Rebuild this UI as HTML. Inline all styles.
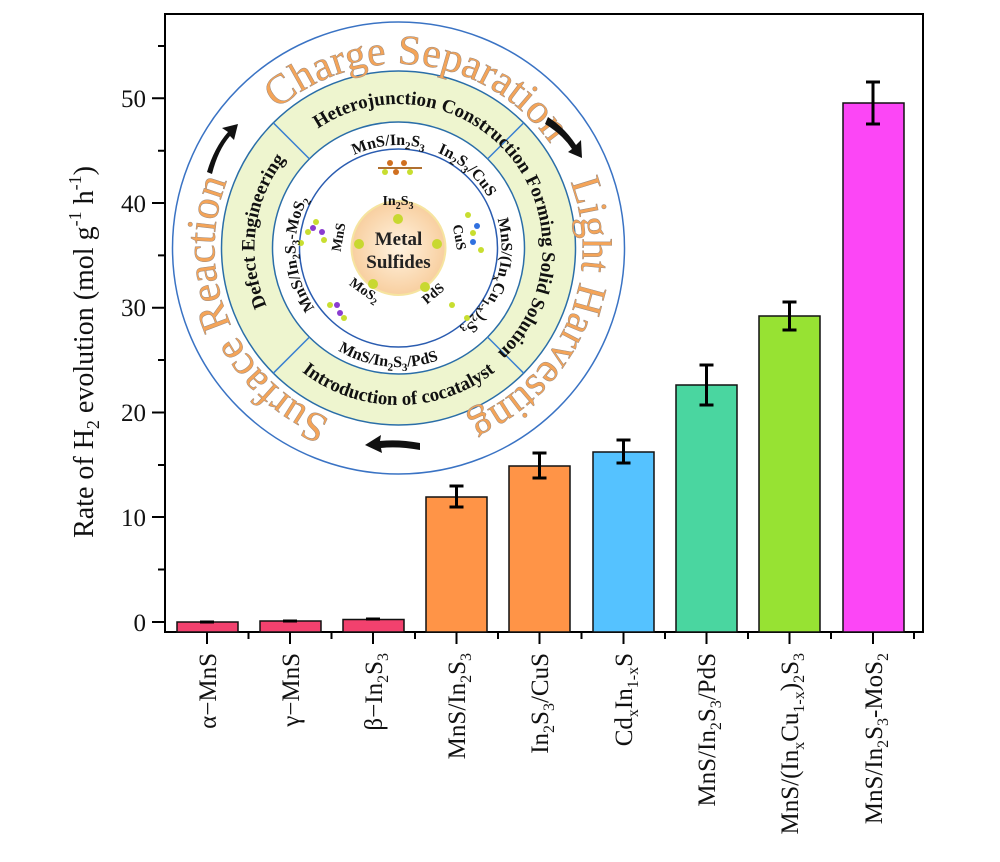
<!DOCTYPE html>
<html><head><meta charset="utf-8"><style>
html,body{margin:0;padding:0;background:#fff;}
svg{display:block;font-family:"Liberation Serif",serif;}
</style></head><body>
<svg width="1000" height="862" viewBox="0 0 1000 862" xmlns="http://www.w3.org/2000/svg">
<defs>
<path id="cwOut" d="M 398.5,432 A 184,184 0 1 1 398.5,64 A 184,184 0 1 1 398.5,432"/>
<path id="cwMid" d="M 398.5,392 A 144,144 0 1 1 398.5,104 A 144,144 0 1 1 398.5,392"/>
<path id="ccwMid" d="M 241.5,248 A 157,157 0 0 0 555.5,248"/>
<path id="cwIn" d="M 398.5,351 A 103,103 0 1 1 398.5,145 A 103,103 0 1 1 398.5,351"/>
<path id="ccwIn" d="M 279.5,248 A 119,119 0 0 0 517.5,248"/>
<radialGradient id="og" cx="50%" cy="50%" r="50%"><stop offset="0" stop-color="#fff3e0"/><stop offset="1" stop-color="#f8cfa0"/></radialGradient>
</defs>

<rect x="165" y="14" width="758" height="618" fill="none" stroke="#000" stroke-width="2"/>

<g stroke="#111" stroke-width="1.5">
<rect x="177" y="622" width="61" height="10" fill="#f2416e"/>
<rect x="260" y="621" width="61" height="11" fill="#f2416e"/>
<rect x="343" y="619.5" width="61" height="12.5" fill="#f2416e"/>
<rect x="426" y="497" width="61" height="135" fill="#ff9447"/>
<rect x="509" y="466" width="61" height="166" fill="#ff9447"/>
<rect x="593" y="452" width="61" height="180" fill="#55c2ff"/>
<rect x="676" y="385" width="61" height="247" fill="#4ad6a0"/>
<rect x="759" y="316" width="61" height="316" fill="#97e233"/>
<rect x="843" y="103" width="61" height="529" fill="#fc46f6"/>
</g>
<g stroke="#000" stroke-width="3" fill="none">
<path d="M200,622h14 M283,621h14 M366,619h14"/>
<path d="M456.5,486v21 M449.5,486h14 M449.5,507h14"/>
<path d="M539.5,453v25 M532.5,453h14 M532.5,478h14"/>
<path d="M623.5,440v23 M616.5,440h14 M616.5,463h14"/>
<path d="M706.5,365v40 M699.5,365h14 M699.5,405h14"/>
<path d="M789.5,302v28 M782.5,302h14 M782.5,330h14"/>
<path d="M873,82v42 M866,82h14 M866,124h14"/>
</g>

<g stroke="#000" stroke-width="2">
<path d="M152,622h13 M152,517h13 M152,412.5h13 M152,307.7h13 M152,203h13 M152,98.3h13"/>
<path d="M158,569.5h7 M158,465h7 M158,360h7 M158,255.4h7 M158,150.7h7 M158,46h7"/>
<path d="M207,632v12 M290,632v12 M373,632v12 M456.5,632v12 M539.5,632v12 M623.5,632v12 M706.5,632v12 M789.5,632v12 M873,632v12"/>
<path d="M248.5,632v7 M331.5,632v7 M415,632v7 M498,632v7 M581.5,632v7 M665,632v7 M748,632v7 M831,632v7 M914,632v7"/>
</g>
<g font-size="25" text-anchor="end" fill="#111">
<text x="146" y="631">0</text>
<text x="146" y="526">10</text>
<text x="146" y="421">20</text>
<text x="146" y="316">30</text>
<text x="146" y="212">40</text>
<text x="146" y="107">50</text>
</g>

<text transform="translate(93,352) rotate(-90)" font-size="28" text-anchor="middle" fill="#111">Rate of H<tspan font-size="18" dy="6">2</tspan><tspan dy="-6"> evolution (mol g</tspan><tspan font-size="18" dy="-12">-1</tspan><tspan dy="12"> h</tspan><tspan font-size="18" dy="-12">-1</tspan><tspan dy="12">)</tspan></text>

<g font-size="25" fill="#111" text-anchor="end">
<text transform="translate(216,653) rotate(-90)">α−MnS</text>
<text transform="translate(299,653) rotate(-90)">γ−MnS</text>
<text transform="translate(382,653) rotate(-90)">β−In<tspan font-size="16" dy="6">2</tspan><tspan dy="-6">S</tspan><tspan font-size="16" dy="6">3</tspan></text>
<text transform="translate(465,653) rotate(-90)">MnS/In<tspan font-size="16" dy="6">2</tspan><tspan dy="-6">S</tspan><tspan font-size="16" dy="6">3</tspan></text>
<text transform="translate(548,653) rotate(-90)">In<tspan font-size="16" dy="6">2</tspan><tspan dy="-6">S</tspan><tspan font-size="16" dy="6">3</tspan><tspan dy="-6">/CuS</tspan></text>
<text transform="translate(632,653) rotate(-90)">Cd<tspan font-size="16" dy="6">x</tspan><tspan dy="-6">In</tspan><tspan font-size="16" dy="6">1-x</tspan><tspan dy="-6">S</tspan></text>
<text transform="translate(715,653) rotate(-90)">MnS/In<tspan font-size="16" dy="6">2</tspan><tspan dy="-6">S</tspan><tspan font-size="16" dy="6">3</tspan><tspan dy="-6">/PdS</tspan></text>
<text transform="translate(798,653) rotate(-90)">MnS/(In<tspan font-size="16" dy="6">x</tspan><tspan dy="-6">Cu</tspan><tspan font-size="16" dy="6">1-x</tspan><tspan dy="-6">)</tspan><tspan font-size="16" dy="6">2</tspan><tspan dy="-6">S</tspan><tspan font-size="16" dy="6">3</tspan></text>
<text transform="translate(882,653) rotate(-90)">MnS/In<tspan font-size="16" dy="6">2</tspan><tspan dy="-6">S</tspan><tspan font-size="16" dy="6">3</tspan><tspan dy="-6">-MoS</tspan><tspan font-size="16" dy="6">2</tspan></text>
</g>

<circle cx="398.5" cy="248" r="226" fill="#fff" stroke="#3a73c4" stroke-width="1.5"/>
<circle cx="398.5" cy="248" r="177" fill="#eef5cf" stroke="#2a6ea8" stroke-width="1.5"/>
<circle cx="398.5" cy="248" r="126" fill="#fff" stroke="#2a6ea8" stroke-width="1.5"/>
<circle cx="398.5" cy="248" r="99" fill="#fff" stroke="#2a5cb0" stroke-width="1.5"/>
<g stroke="#3a80d0" stroke-width="1.5">
<path d="M309.4,158.9 L273.3,122.8 M487.6,158.9 L523.7,122.8 M487.6,337.1 L523.7,373.2 M309.4,337.1 L273.3,373.2"/>
</g>
<circle cx="398.5" cy="248" r="47" fill="url(#og)" stroke="#f6e4a0" stroke-width="2"/>
<text x="398.5" y="245" font-size="19" font-weight="bold" text-anchor="middle" fill="#222">Metal</text>
<text x="398.5" y="268" font-size="19" font-weight="bold" text-anchor="middle" fill="#222">Sulfides</text>
<g fill="#c8d830"><circle cx="398" cy="219" r="5"/><circle cx="359" cy="244" r="5"/><circle cx="437" cy="244" r="5"/><circle cx="373" cy="284" r="5"/><circle cx="425" cy="287" r="5"/></g>
<g fill="#c8de30"><circle cx="316" cy="222" r="3"/><circle cx="308" cy="232" r="3"/><circle cx="324" cy="240" r="3"/><circle cx="301" cy="243" r="3"/><circle cx="468" cy="215" r="3"/><circle cx="473" cy="233" r="3"/><circle cx="481" cy="250" r="3"/><circle cx="452" cy="305" r="3"/><circle cx="467" cy="318" r="3"/><circle cx="330" cy="305" r="3"/><circle cx="344" cy="318" r="3"/><circle cx="385" cy="172" r="3"/><circle cx="410" cy="172" r="3"/></g>
<g fill="#8a3cd0"><circle cx="313" cy="228" r="3"/><circle cx="322" cy="232" r="3"/><circle cx="337" cy="305" r="3"/><circle cx="340" cy="313" r="3"/></g>
<g fill="#d07020"><circle cx="390" cy="163" r="3"/><circle cx="404" cy="163" r="3"/><circle cx="396" cy="172" r="3"/></g>
<g fill="#3070e0"><circle cx="477" cy="226" r="3"/><circle cx="473" cy="242" r="3"/></g>
<path d="M378,168h44" stroke="#b07030" stroke-width="2"/>

<g font-size="42" fill="#f4a458" stroke="#9a8a80" stroke-width="0.5" text-anchor="middle">
<text><textPath href="#cwOut" startOffset="52%">Charge Separation</textPath></text>
<text><textPath href="#cwOut" startOffset="81.5%">Light Harvesting</textPath></text>
<text><textPath href="#cwOut" startOffset="18.5%">Surface Reaction</textPath></text>
</g>
<g font-size="19" font-weight="bold" fill="#111" text-anchor="middle">
<text><textPath href="#cwMid" startOffset="53.5%">Heterojunction Construction</textPath></text>
<text><textPath href="#cwMid" startOffset="77.5%">Forming Solid Solution</textPath></text>
<text><textPath href="#cwMid" startOffset="27%">Defect Engineering</textPath></text>
<text><textPath href="#ccwMid" startOffset="50%">Introduction of cocatalyst</textPath></text>
</g>
<g font-size="16" font-weight="bold" fill="#111" text-anchor="middle">
<text><textPath href="#cwIn" startOffset="48.5%">MnS/In<tspan font-size="11" dy="4">2</tspan><tspan dy="-4">S</tspan><tspan font-size="11" dy="4">3</tspan></textPath></text>
<text><textPath href="#cwIn" startOffset="61.5%">In<tspan font-size="11" dy="4">2</tspan><tspan dy="-4">S</tspan><tspan font-size="11" dy="4">3</tspan><tspan dy="-4">/CuS</tspan></textPath></text>
<text><textPath href="#cwIn" startOffset="80%">MnS/(In<tspan font-size="11" dy="4">x</tspan><tspan dy="-4">Cu</tspan><tspan font-size="11" dy="4">1-x</tspan><tspan dy="-4">)</tspan><tspan font-size="11" dy="4">2</tspan><tspan dy="-4">S</tspan><tspan font-size="11" dy="4">3</tspan></textPath></text>
<text><textPath href="#cwIn" startOffset="24%">MnS/In<tspan font-size="11" dy="4">2</tspan><tspan dy="-4">S</tspan><tspan font-size="11" dy="4">3</tspan><tspan dy="-4">-MoS</tspan><tspan font-size="11" dy="4">2</tspan></textPath></text>
<text><textPath href="#ccwIn" startOffset="47%">MnS/In<tspan font-size="11" dy="4">2</tspan><tspan dy="-4">S</tspan><tspan font-size="11" dy="4">3</tspan><tspan dy="-4">/PdS</tspan></textPath></text>
<text font-size="14" x="398" y="205">In<tspan font-size="10" dy="4">2</tspan><tspan dy="-4">S</tspan><tspan font-size="10" dy="4">3</tspan></text>
</g>
<g font-size="14" font-weight="bold" fill="#111" text-anchor="middle">
<text transform="translate(343,238) rotate(-80)">MnS</text>
<text transform="translate(455,238) rotate(80)">CuS</text>
<text transform="translate(362,294) rotate(35)">MoS<tspan font-size="10" dy="3">2</tspan></text>
<text transform="translate(436,297) rotate(-40)">PdS</text>
</g>

<g fill="#111">
<path d="M207,172 Q214,148 228,132 L222,128 L238,124 L234,140 L230,136 Q218,150 212,174 Z"/>
<path d="M548,117 Q565,128 576,145 L581,140 L582,158 L568,152 L572,149 Q562,134 545,124 Z"/>
<path d="M420,443 Q398,439 380,441 L381,435 L365,445 L382,453 L381,448 Q398,446 420,450 Z"/>
</g>
</svg>
</body></html>
